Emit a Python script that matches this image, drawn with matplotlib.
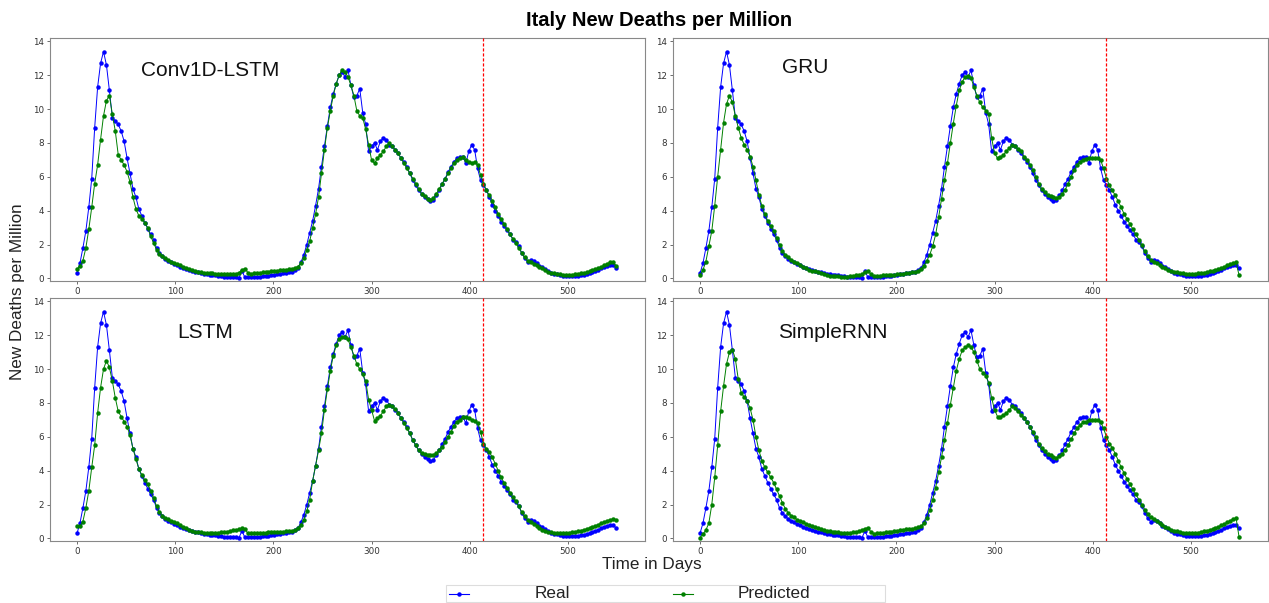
import matplotlib
matplotlib.use("Agg")
import matplotlib.pyplot as plt
from matplotlib.lines import Line2D
from matplotlib.patches import Rectangle

plt.rcParams["font.family"] = ["Liberation Sans", "DejaVu Sans"]

# Day index of every sample (every third day of the series)
DAYS = list(range(0, 552, 3))

REAL = [
    0.3, 0.9, 1.8, 2.8, 4.2, 5.9, 8.9, 11.3, 12.7, 13.4,
    12.6, 11.1, 9.5, 9.3, 9.1, 8.7, 8.1, 7.1, 6.2, 5.3,
    4.8, 4.1, 3.7, 3.3, 2.95, 2.6, 2.3, 1.8, 1.5, 1.3,
    1.15, 1.05, 0.95, 0.88, 0.8, 0.7, 0.62, 0.55, 0.5, 0.45,
    0.4, 0.36, 0.32, 0.28, 0.25, 0.23, 0.2, 0.18, 0.15, 0.13,
    0.11, 0.1, 0.08, 0.07, 0.06, 0.05, 0.45, 0.06, 0.07, 0.08,
    0.09, 0.1, 0.11, 0.13, 0.15, 0.17, 0.2, 0.22, 0.25, 0.27,
    0.3, 0.33, 0.36, 0.4, 0.48, 0.6, 0.95, 1.4, 2.0, 2.7,
    3.4, 4.3, 5.3, 6.6, 7.8, 9.0, 10.1, 10.9, 11.5, 12.0,
    12.2, 11.9, 12.3, 11.4, 10.7, 10.8, 11.2, 9.8, 9.1, 7.5,
    7.8, 8.0, 7.6, 8.1, 8.3, 8.2, 7.9, 7.8, 7.6, 7.4,
    7.1, 6.9, 6.6, 6.2, 5.8, 5.5, 5.2, 5.0, 4.8, 4.7,
    4.55, 4.65, 4.9, 5.2, 5.6, 5.9, 6.3, 6.6, 6.9, 7.1,
    7.15, 7.2, 6.8, 7.5, 7.9, 7.6, 6.5, 5.8, 5.5, 5.2,
    4.8, 4.35, 4.0, 3.7, 3.35, 3.1, 2.85, 2.6, 2.3, 2.15,
    1.9, 1.5, 1.2, 1.0, 1.1, 1.05, 0.9, 0.75, 0.65, 0.55,
    0.45, 0.35, 0.28, 0.24, 0.2, 0.17, 0.15, 0.14, 0.14, 0.14,
    0.15, 0.18, 0.22, 0.26, 0.3, 0.36, 0.42, 0.5, 0.6, 0.7,
    0.75, 0.8, 0.82, 0.6,
]

PRED_CONV1D_LSTM = [
    0.55, 0.75, 1.05, 1.8, 2.9, 4.2, 5.6, 6.7, 8.2, 9.6,
    10.5, 10.8, 9.7, 8.7, 7.3, 7.0, 6.7, 6.3, 5.7, 4.8,
    4.1, 3.7, 3.5, 3.3, 3.0, 2.5, 2.1, 1.7, 1.45, 1.3,
    1.2, 1.1, 1.0, 0.92, 0.85, 0.78, 0.7, 0.62, 0.55, 0.48,
    0.44, 0.4, 0.37, 0.35, 0.33, 0.31, 0.3, 0.28, 0.27, 0.26,
    0.25, 0.25, 0.24, 0.25, 0.27, 0.35, 0.5, 0.58, 0.35, 0.28,
    0.3, 0.32, 0.34, 0.36, 0.38, 0.4, 0.42, 0.44, 0.46, 0.48,
    0.5, 0.52, 0.55, 0.58, 0.62, 0.7, 0.9, 1.2, 1.7, 2.2,
    3.0, 3.8, 4.8, 6.2, 7.6, 8.9, 9.9, 10.8, 11.5, 12.0,
    12.3, 12.2, 11.9, 11.4, 10.8, 9.9, 9.6, 9.5, 8.8, 7.9,
    7.0, 6.8, 7.1, 7.3, 7.5, 7.8, 8.0, 7.8, 7.6, 7.4,
    7.1, 6.8, 6.5, 6.2, 5.9, 5.6, 5.3, 5.0, 4.85, 4.7,
    4.65, 4.75, 5.0, 5.3, 5.6, 5.9, 6.2, 6.5, 6.8, 7.0,
    7.1, 7.15, 7.0, 6.85, 6.8, 6.9, 6.7, 6.1, 5.6, 5.2,
    4.9, 4.6, 4.2, 3.8, 3.5, 3.2, 2.9, 2.6, 2.35, 2.1,
    1.8, 1.5, 1.25, 1.05, 0.95, 0.88, 0.82, 0.7, 0.6, 0.5,
    0.4, 0.35, 0.3, 0.27, 0.25, 0.23, 0.22, 0.22, 0.23, 0.25,
    0.27, 0.3, 0.33, 0.37, 0.42, 0.48, 0.55, 0.62, 0.7, 0.78,
    0.88, 0.95, 0.98, 0.75,
]

PRED_GRU = [
    0.2, 0.5, 1.0, 1.9, 2.8, 4.3, 6.0, 7.6, 9.2, 10.3,
    10.8, 10.4, 9.6, 8.9, 8.3, 7.9, 7.6, 7.2, 6.6, 5.8,
    4.9, 4.3, 3.8, 3.4, 3.1, 2.8, 2.4, 2.0, 1.6, 1.4,
    1.25, 1.1, 1.0, 0.92, 0.82, 0.7, 0.6, 0.52, 0.46, 0.42,
    0.36, 0.3, 0.25, 0.2, 0.16, 0.14, 0.13, 0.12, 0.11, 0.1,
    0.1, 0.12, 0.15, 0.18, 0.2, 0.25, 0.38, 0.45, 0.25, 0.15,
    0.16, 0.17, 0.18, 0.19, 0.2, 0.21, 0.22, 0.24, 0.26, 0.28,
    0.3, 0.33, 0.36, 0.4, 0.45, 0.55, 0.75, 1.05, 1.4, 1.9,
    2.6, 3.6, 4.7, 5.8, 6.8, 8.0, 9.15, 10.2, 11.1, 11.6,
    11.9, 11.95, 11.85, 11.3, 10.8, 10.4, 10.1, 9.9, 9.7, 8.3,
    7.4, 7.1, 7.15, 7.3, 7.5, 7.7, 7.9, 7.8, 7.65, 7.5,
    7.2, 7.0, 6.7, 6.4, 6.0, 5.6, 5.3, 5.1, 4.95, 4.85,
    4.8, 4.75, 4.8, 5.0, 5.25, 5.6, 6.0, 6.4, 6.7, 6.9,
    7.0, 7.05, 7.1, 7.1, 7.1, 7.1, 7.0, 6.5, 5.9, 5.5,
    5.2, 4.9, 4.55, 4.2, 3.8, 3.5, 3.2, 2.9, 2.6, 2.3,
    1.95, 1.6, 1.3, 1.1, 1.0, 0.92, 0.82, 0.7, 0.6, 0.5,
    0.45, 0.4, 0.36, 0.33, 0.3, 0.28, 0.27, 0.27, 0.28, 0.3,
    0.32, 0.35, 0.38, 0.42, 0.46, 0.5, 0.55, 0.62, 0.7, 0.78,
    0.85, 0.9, 0.95, 0.2,
]

PRED_LSTM = [
    0.75, 0.72, 1.0, 1.8, 2.8, 4.2, 5.5, 7.4, 8.9, 10.0,
    10.5, 10.1, 9.3, 8.3, 7.5, 7.2, 6.9, 6.6, 6.1, 5.3,
    4.7, 4.1, 3.75, 3.45, 3.2, 2.8, 2.4, 1.9, 1.55, 1.35,
    1.22, 1.12, 1.05, 1.0, 0.9, 0.78, 0.68, 0.6, 0.52, 0.45,
    0.41, 0.38, 0.36, 0.35, 0.34, 0.33, 0.33, 0.33, 0.34, 0.36,
    0.38, 0.41, 0.45, 0.49, 0.5, 0.53, 0.6, 0.55, 0.3, 0.3,
    0.3, 0.31, 0.32, 0.33, 0.35, 0.36, 0.37, 0.38, 0.39, 0.4,
    0.41, 0.42, 0.44, 0.46, 0.5, 0.6, 0.8, 1.1, 1.6, 2.3,
    3.4, 4.3, 5.2, 6.2, 7.6, 8.8, 9.9, 10.8, 11.4, 11.8,
    11.9, 11.9, 11.75, 11.3, 10.8, 10.3, 10.0, 9.7, 9.3, 8.2,
    7.6, 6.95, 7.1, 7.25, 7.5, 7.8, 7.9, 7.8, 7.65, 7.4,
    7.1, 6.8, 6.5, 6.2, 5.8, 5.5, 5.2, 5.05, 5.0, 4.95,
    4.95, 4.95, 5.05, 5.2, 5.4, 5.7, 6.0, 6.3, 6.65, 6.9,
    7.0, 7.15, 7.2, 7.1, 7.0, 6.95, 6.8, 6.3, 5.6, 5.3,
    5.1, 4.8, 4.4, 4.0, 3.6, 3.3, 3.0, 2.7, 2.45, 2.2,
    1.9, 1.55, 1.3, 1.1, 0.95, 0.85, 0.75, 0.62, 0.52, 0.45,
    0.4, 0.36, 0.34, 0.33, 0.33, 0.33, 0.34, 0.35, 0.37, 0.4,
    0.43, 0.47, 0.51, 0.56, 0.62, 0.68, 0.75, 0.82, 0.9, 0.98,
    1.05, 1.1, 1.15, 1.1,
]

PRED_SIMPLE_RNN = [
    0.05, 0.25, 0.5, 0.9, 2.0, 3.6, 5.5, 7.5, 9.0, 10.3,
    11.0, 11.15, 10.6, 9.4, 8.6, 8.35, 8.1, 7.7, 7.0, 6.0,
    5.2, 4.6, 4.2, 3.9, 3.6, 3.3, 2.9, 2.5, 2.1, 1.75,
    1.5, 1.35, 1.25, 1.1, 1.02, 0.96, 0.88, 0.8, 0.72, 0.65,
    0.6, 0.55, 0.5, 0.46, 0.43, 0.4, 0.38, 0.36, 0.34, 0.33,
    0.33, 0.34, 0.36, 0.4, 0.43, 0.5, 0.58, 0.63, 0.4, 0.28,
    0.3, 0.32, 0.34, 0.36, 0.38, 0.4, 0.42, 0.45, 0.48, 0.5,
    0.53, 0.55, 0.58, 0.6, 0.65, 0.72, 0.9, 1.2, 1.7, 2.3,
    3.0, 3.9, 4.8, 5.8, 6.8, 7.9, 8.9, 9.9, 10.6, 11.1,
    11.3, 11.4, 11.3, 11.0, 10.5, 10.0, 9.8, 9.6, 9.2, 8.3,
    7.6, 7.2, 7.2, 7.3, 7.4, 7.6, 7.8, 7.7, 7.5, 7.3,
    7.1, 6.85, 6.6, 6.3, 6.0, 5.6, 5.35, 5.15, 5.0, 4.9,
    4.8, 4.75, 4.85, 5.0, 5.2, 5.5, 5.85, 6.2, 6.5, 6.7,
    6.85, 6.9, 7.0, 7.0, 7.0, 7.0, 6.9, 6.5, 6.0, 5.6,
    5.35, 5.0, 4.6, 4.2, 3.85, 3.5, 3.2, 2.9, 2.6, 2.3,
    2.0, 1.7, 1.45, 1.25, 1.15, 1.05, 0.9, 0.78, 0.68, 0.6,
    0.52, 0.46, 0.42, 0.38, 0.35, 0.33, 0.32, 0.32, 0.33, 0.35,
    0.38, 0.42, 0.46, 0.5, 0.56, 0.62, 0.7, 0.78, 0.86, 0.95,
    1.05, 1.15, 1.2, 0.1,
]

MODEL_NAMES = ["Conv1D-LSTM", "GRU", "LSTM", "SimpleRNN"]
PREDICTIONS = [PRED_CONV1D_LSTM, PRED_GRU, PRED_LSTM, PRED_SIMPLE_RNN]
SPLIT_DAY = 414
X_TICKS = [0, 100, 200, 300, 400, 500]
Y_TICKS = [0, 2, 4, 6, 8, 10, 12, 14]

W, H = 1269, 603
fig = plt.figure(figsize=(W / 100, H / 100), dpi=100)


def px_rect(left, top, right, bottom):
    return [left / W, 1 - bottom / H, (right - left) / W, (bottom - top) / H]


panel_boxes = [
    px_rect(50, 38, 645, 281),
    px_rect(673, 38, 1268, 281),
    px_rect(50, 298, 645, 541),
    px_rect(673, 298, 1268, 541),
]
name_pos = [(0.27, 0.868), (0.222, 0.88), (0.26, 0.856), (0.269, 0.856)]

for box, name, pred, npos in zip(panel_boxes, MODEL_NAMES, PREDICTIONS, name_pos):
    ax = fig.add_axes(box)
    ax.plot(DAYS, REAL, color="blue", marker="o", markersize=2.2,
            linewidth=0.7, zorder=2)
    ax.plot(DAYS, pred, color="green", marker="o", markersize=2.2,
            linewidth=0.7, zorder=3)
    ax.axvline(SPLIT_DAY, color="#ff0000", linestyle=(0, (2.5, 1.5)),
               linewidth=0.9, snap=True, zorder=4)
    ax.set_xlim(-27.5, 578.5)
    ax.set_ylim(-0.15, 14.2)
    ax.set_xticks(X_TICKS)
    ax.set_yticks(Y_TICKS)
    ax.tick_params(labelsize=6.3, length=2.5, width=0.6, colors="#555555",
                   labelcolor="#333333", pad=2)
    for lab in ax.get_xticklabels() + ax.get_yticklabels():
        lab.set_family("DejaVu Sans")
    for sp in ax.spines.values():
        sp.set_color("#888888")
        sp.set_linewidth(0.8)
    ax.text(npos[0], npos[1], name, transform=ax.transAxes, fontsize=15,
            ha="center", va="center", color="#111111")

fig.text(659 / W, 1 - 20 / H, "Italy New Deaths per Million", fontsize=14.5,
         fontweight="bold", ha="center", va="center")
fig.text(18 / W, 1 - 292 / H, "New Deaths per Million", fontsize=12.3,
         rotation=90, ha="center", va="center", color="#222222")
fig.text(652 / W, 1 - 565 / H, "Time in Days", fontsize=12.3,
         ha="center", va="center", color="#222222")

# Legend drawn in figure pixel coordinates
fig.add_artist(Rectangle((446 / W, 1 - 602 / H), 439 / W, 17 / H,
                         transform=fig.transFigure, facecolor="white",
                         edgecolor="#dddddd", linewidth=0.8))
y_leg = 1 - 594 / H
for (x0, x1), color, label, tx in [((449, 469), "blue", "Real", 535),
                                   ((673, 693), "green", "Predicted", 738)]:
    fig.add_artist(Line2D([x0 / W, x1 / W], [y_leg, y_leg],
                          transform=fig.transFigure, color=color,
                          linewidth=0.8))
    fig.add_artist(Line2D([(x0 + x1) / 2 / W], [y_leg],
                          transform=fig.transFigure, color=color,
                          marker="o", markersize=2.2, linestyle="none"))
    fig.text(tx / W, y_leg, label, fontsize=12.3, ha="left", va="center",
             color="#222222")

fig.savefig("out.png", dpi=100)
